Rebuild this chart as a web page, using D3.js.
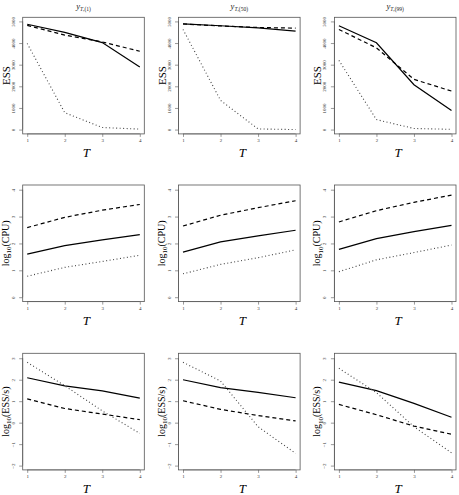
<!DOCTYPE html>
<html><head><meta charset="utf-8">
<script src="https://cdn.jsdelivr.net/npm/d3@7"></script>
<style>body{margin:0;background:#fff}svg{display:block}</style>
</head><body>
<script>
const T = [1, 2, 3, 4];
const colTitles = ["(1)", "(50)", "(99)"];
const rowLabels = ["ESS", "CPU", "ESS/s"];
const rowTicks = [[0,1000,2000,3000,4000,5000],[0,1,2,3,4],[-2,-1,0,1,2,3]];
const rowDomains = [[-200,5190],[-0.164,4.175],[-2.2,3.23]];

// ESS
const essSolid  = [[4870,4490,4020,2890],[4890,4800,4700,4550],[4800,4010,2075,880]];
const essDashed = [[4820,4370,4050,3620],[4880,4790,4720,4690],[4630,3775,2320,1780]];
const essDotted = [[3980,780,95,20],[4630,1350,30,0],[3200,460,50,10]];
// log10(CPU)
const cpuSolid  = [[1.60,1.92,2.13,2.33],[1.68,2.06,2.28,2.49],[1.78,2.18,2.44,2.67]];
const cpuDashed = [[2.59,2.97,3.24,3.45],[2.65,3.05,3.33,3.59],[2.80,3.22,3.53,3.80]];
const cpuDotted = [[0.78,1.11,1.33,1.56],[0.87,1.22,1.47,1.76],[0.95,1.39,1.66,1.94]];
// log10(ESS/s)
const esSolid  = [[2.09,1.71,1.48,1.14],[2.00,1.63,1.41,1.16],[1.89,1.49,0.90,0.25]];
const esDashed = [[1.11,0.66,0.40,0.14],[1.02,0.62,0.33,0.08],[0.85,0.37,-0.16,-0.54]];
const esDotted = [[2.81,1.72,0.55,-0.50],[2.81,1.94,-0.19,-1.43],[2.53,1.40,-0.19,-1.40]];

const rows = [
  [essSolid, essDashed, essDotted],
  [cpuSolid, cpuDashed, cpuDotted],
  [esSolid, esDashed, esDotted]
];
const styles = [
  {dash:null, color:"#000", w:1.2},
  {dash:"4,3", color:"#000", w:1.2},
  {dash:"1,2.5", color:"#444", w:1.1}
];

const W = 459, H = 495;
const colX0 = [22.7, 178.5, 334.4];
const rowY0 = [17.3, 185, 353.3];
const pw = 121.6, ph = 116.6;
const svg = d3.select("body").append("svg").attr("width", W).attr("height", H);
const serif = "'Liberation Serif','DejaVu Serif',serif";

for (let r = 0; r < 3; r++) {
  for (let c = 0; c < 3; c++) {
    const x0 = colX0[c], y0 = rowY0[r];
    const g = svg.append("g").attr("transform", `translate(${x0},${y0})`);
    const x = d3.scaleLinear().domain([0.88, 4.12]).range([0, pw]);
    const y = d3.scaleLinear().domain(rowDomains[r]).range([ph, 0]);
    // x axis
    const xa = g.append("g").attr("transform", `translate(0,${ph})`)
      .call(d3.axisBottom(x).tickValues(T).tickSize(3).tickPadding(2).tickFormat(d3.format("d")));
    xa.select(".domain").attr("d", `M${x(1)},0H${x(4)}`).attr("stroke", "#555").attr("stroke-width", 0.6);
    xa.selectAll(".tick line").attr("stroke", "#555").attr("stroke-width", 0.6);
    xa.selectAll("text").attr("font-size", 5).attr("font-family", serif).attr("fill", "#333");
    // y axis
    const ya = g.append("g")
      .call(d3.axisLeft(y).tickValues(rowTicks[r]).tickSize(3.5).tickPadding(2).tickFormat(d3.format("d")));
    const tk = rowTicks[r];
    ya.select(".domain").attr("d", `M0,${y(tk[0])}V${y(tk[tk.length-1])}`).attr("stroke", "#555").attr("stroke-width", 0.6);
    ya.selectAll(".tick line").attr("stroke", "#555").attr("stroke-width", 0.6);
    ya.selectAll(".tick text").attr("font-size", 5).attr("font-family", serif).attr("fill", "#333")
      .attr("text-anchor", "middle").attr("x", 0).attr("dy", 0)
      .attr("transform", "translate(-8,0) rotate(-90)");
    // lines
    const line = d3.line().x((d, i) => x(T[i])).y(d => y(d));
    rows[r].forEach((series, s) => {
      g.append("path").attr("d", line(series[c])).attr("fill", "none")
        .attr("stroke", styles[s].color).attr("stroke-width", styles[s].w)
        .attr("stroke-dasharray", styles[s].dash);
    });
    // box
    g.append("rect").attr("x", 0).attr("y", 0).attr("width", pw).attr("height", ph)
      .attr("fill", "none").attr("stroke", "#555").attr("stroke-width", 0.8);
    // x label
    g.append("text").attr("x", pw / 2 + 3).attr("y", ph + 23).attr("text-anchor", "middle")
      .attr("font-family", serif).attr("font-style", "italic").attr("font-size", 13).text("T");
    // y label
    const yl = g.append("text").attr("text-anchor", "middle").attr("font-family", serif)
      .attr("font-size", r === 0 ? 11 : 10)
      .attr("transform", `translate(${r === 0 ? -13 : -14},${ph / 2}) rotate(-90)`);
    if (r === 0) {
      yl.text("ESS");
    } else {
      yl.append("tspan").text("log");
      yl.append("tspan").attr("font-size", 7).attr("dy", 2.5).text("10");
      yl.append("tspan").attr("dy", -2.5).text("(" + rowLabels[r] + ")");
    }
    // title
    if (r === 0) {
      const t = g.append("text").attr("x", pw / 2).attr("y", -8.5).attr("text-anchor", "middle")
        .attr("font-family", serif).attr("font-size", 8.5).attr("fill", "#222");
      t.append("tspan").attr("font-style", "italic").text("y");
      t.append("tspan").attr("font-size", 5.5).attr("dy", 1.8).attr("font-style", "italic").text("T");
      t.append("tspan").attr("font-size", 5.5).text("," + colTitles[c]);
    }
  }
}
</script>
</body></html>
